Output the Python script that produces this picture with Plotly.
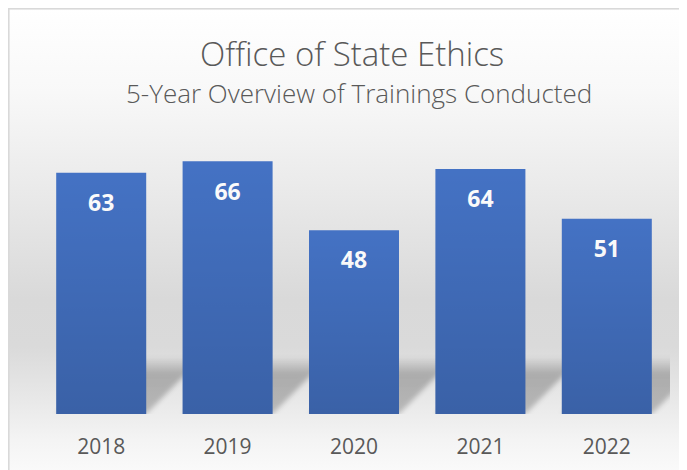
import base64
import plotly.graph_objects as go

# ---- data ----
years = ["2018", "2019", "2020", "2021", "2022"]
trainings = [63, 66, 48, 64, 51]
title_text = "Office of State Ethics"
subtitle_text = "5-Year Overview of Trainings Conducted"

# ---- layout geometry ----
W, H = 687, 470
ML, MR, MT, MB = 30, 25, 138, 64
PW, PH = W - ML - MR, H - MT - MB
Y_MAX = 70
BAR_W = 0.712

def svg_uri(svg):
    return "data:image/svg+xml;base64," + base64.b64encode(svg.encode()).decode()

# background: chart frame with vertical gradient
bg_svg = f'''<svg xmlns="http://www.w3.org/2000/svg" width="{W}" height="{H}" viewBox="0 0 {W} {H}">
<defs><linearGradient id="g" x1="0" y1="0" x2="0" y2="{H}" gradientUnits="userSpaceOnUse">
<stop offset="0" stop-color="#ffffff"/>
<stop offset="0.18" stop-color="#f8f8f8"/>
<stop offset="0.40" stop-color="#e9e9e9"/>
<stop offset="0.62" stop-color="#d9d9d9"/>
<stop offset="0.72" stop-color="#dadada"/>
<stop offset="0.84" stop-color="#e9e9e9"/>
<stop offset="0.92" stop-color="#f4f4f4"/>
<stop offset="1" stop-color="#fbfbfb"/>
</linearGradient></defs>
<rect x="0" y="0" width="{W}" height="{H}" fill="url(#g)"/>
<rect x="0.8" y="0.8" width="{W+20}" height="{H+20}" fill="none" stroke="#d9d9d9" stroke-width="1.6"/>
</svg>'''

# perspective shadows behind bars (data-unit space)
SH_H = 15.0
SKEW = 0.45
VB_W, VB_H = 500, 160
def sx(x):
    return (x + 0.5) * 100
def sy(y):
    return (16 - y) * 10
polys = []
for i, _ in enumerate(years):
    l, r = i - BAR_W / 2, i + BAR_W / 2
    pts = [(sx(l), sy(0)), (sx(r), sy(0)), (sx(r + SKEW), sy(SH_H)), (sx(l + SKEW), sy(SH_H))]
    polys.append('<polygon points="' + " ".join(f"{a:.1f},{b:.1f}" for a, b in pts) + '" fill="url(#s)"/>')
sh_svg = f'''<svg xmlns="http://www.w3.org/2000/svg" width="{VB_W}" height="{VB_H}" viewBox="0 0 {VB_W} {VB_H}" preserveAspectRatio="none">
<defs>
<linearGradient id="s" x1="0" y1="{sy(SH_H)}" x2="0" y2="{sy(0)}" gradientUnits="userSpaceOnUse">
<stop offset="0" stop-color="#000" stop-opacity="0"/>
<stop offset="0.3" stop-color="#000" stop-opacity="0.24"/>
<stop offset="1" stop-color="#000" stop-opacity="0.22"/>
</linearGradient>
<filter id="b" x="-0.2" y="-0.2" width="1.4" height="1.4"><feGaussianBlur stdDeviation="2 7"/></filter>
</defs>
<g filter="url(#b)">{"".join(polys)}</g>
</svg>'''

# subtle vertical shading on bars (top light -> bottom darker)
rects = []
for i, v in enumerate(trainings):
    l = i - BAR_W / 2
    rects.append(f'<rect x="{sx(l):.2f}" y="{(Y_MAX - v) * 10:.2f}" width="{BAR_W*100:.2f}" height="{v*10:.2f}" fill="url(#d)"/>')
ov_svg = f'''<svg xmlns="http://www.w3.org/2000/svg" width="500" height="{Y_MAX*10}" viewBox="0 0 500 {Y_MAX*10}" preserveAspectRatio="none">
<defs><linearGradient id="d" x1="0" y1="0" x2="0" y2="1">
<stop offset="0" stop-color="#000" stop-opacity="0"/>
<stop offset="1" stop-color="#000" stop-opacity="0.15"/>
</linearGradient></defs>
{"".join(rects)}
</svg>'''

fig = go.Figure()
fig.add_trace(go.Bar(
    x=years, y=trainings, width=BAR_W,
    marker=dict(color="#4472C4", line=dict(width=0)),
    hoverinfo="skip",
))
# value labels just under the top of each bar
fig.add_trace(go.Scatter(
    x=years, y=trainings, mode="markers+text",
    text=[f"<b>{v}</b>" for v in trainings], textposition="bottom center",
    marker=dict(size=32, color="rgba(0,0,0,0)"),
    textfont=dict(family="Open Sans", size=23, color="#ffffff"),
    hoverinfo="skip", cliponaxis=False,
))

def py(ypx):
    return (H - MB - ypx) / PH

fig.add_annotation(xref="paper", yref="paper", x=(344 - ML) / PW, y=py(45), text=title_text,
                   showarrow=False, xanchor="center", yanchor="middle",
                   font=dict(family="Open Sans", size=33, color="#595959", weight=300))
fig.add_annotation(xref="paper", yref="paper", x=(351 - ML) / PW, y=py(85), text=subtitle_text,
                   showarrow=False, xanchor="center", yanchor="middle",
                   font=dict(family="Open Sans", size=26, color="#595959", weight=300))

fig.update_layout(
    width=W, height=H,
    margin=dict(l=ML, r=MR, t=MT, b=MB, pad=0),
    paper_bgcolor="#ffffff", plot_bgcolor="rgba(0,0,0,0)",
    showlegend=False,
    images=[
        dict(source=svg_uri(bg_svg), xref="paper", yref="paper",
             x=-ML / PW, y=1 + MT / PH, sizex=W / PW, sizey=H / PH,
             xanchor="left", yanchor="top", sizing="stretch", layer="below"),
        dict(source=svg_uri(sh_svg), xref="x", yref="y",
             x=-0.5, y=16, sizex=5, sizey=16,
             xanchor="left", yanchor="top", sizing="stretch", layer="below"),
        dict(source=svg_uri(ov_svg), xref="x", yref="y",
             x=-0.5, y=Y_MAX, sizex=5, sizey=Y_MAX,
             xanchor="left", yanchor="top", sizing="stretch", layer="above"),
    ],
    xaxis=dict(type="category", showgrid=False, zeroline=False, showline=False, ticks="",
               tickfont=dict(family="Open Sans", size=21, color="#595959"),
               range=[-0.5, 4.5], fixedrange=True, ticklabelstandoff=18),
    yaxis=dict(range=[0, Y_MAX], visible=False, showgrid=False, zeroline=False, fixedrange=True),
)

fig.write_html("out.html", config={"displayModeBar": False})
